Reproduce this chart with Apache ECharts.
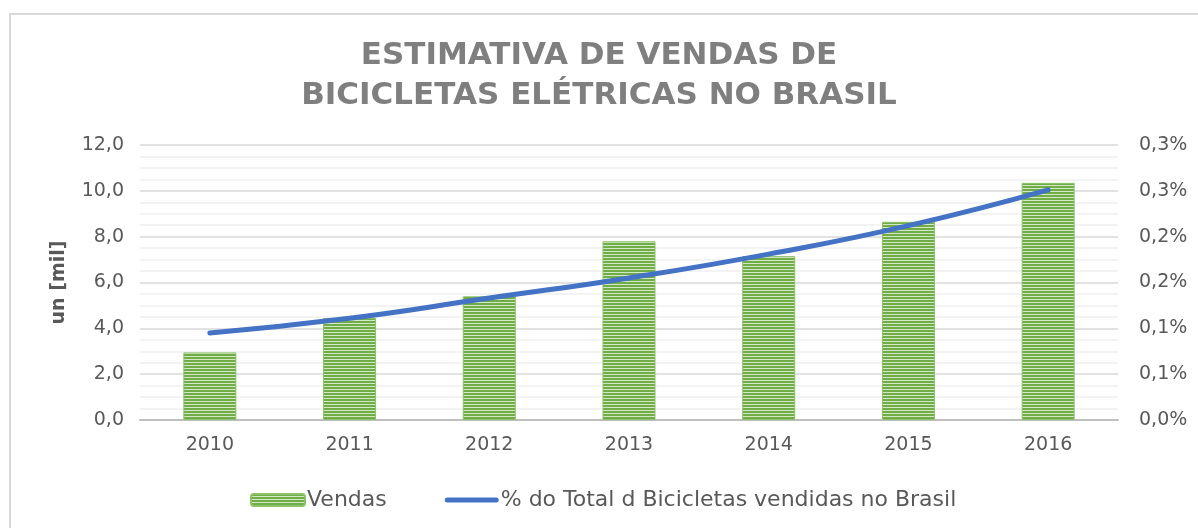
<!DOCTYPE html>
<html>
<head>
<meta charset="utf-8">
<script src="https://cdn.jsdelivr.net/npm/echarts@6/dist/echarts.min.js"></script>
<style>
html,body{margin:0;padding:0;background:#fff;}
#chart{width:1198px;height:528px;}
</style>
</head>
<body>
<div id="chart"></div>
<script>
var categories = ['2010','2011','2012','2013','2014','2015','2016'];
var vendas = [2.95, 4.45, 5.4, 7.8, 7.15, 8.65, 10.35];
var percentTotal = [0.095, 0.111, 0.133, 0.155, 0.181, 0.212, 0.251];
var titleText = 'ESTIMATIVA DE VENDAS DE\nBICICLETAS ELÉTRICAS NO BRASIL';
var seriesNames = ['Vendas', '% do Total d Bicicletas vendidas no Brasil'];
var yAxisName = 'un [mil]';

function makeStripe() {
  var c = document.createElement('canvas');
  c.width = 4; c.height = 3;
  var ctx = c.getContext('2d');
  ctx.fillStyle = '#D3E8C4';
  ctx.fillRect(0, 0, 4, 3);
  ctx.fillStyle = '#70AD47';
  ctx.fillRect(0, 0, 4, 2);
  return c;
}
var stripe = {image: makeStripe(), repeat: 'repeat'};

var font = 'DejaVu Sans';
var chart = echarts.init(document.getElementById('chart'), null, {renderer: 'canvas'});
chart.setOption({
  animation: false,
  backgroundColor: '#fff',
  graphic: [{
    type: 'rect', silent: true, z: -10,
    shape: {x: 10, y: 14, width: 1300, height: 700},
    style: {fill: 'none', stroke: '#D9D9D9', lineWidth: 2}
  }],
  title: {
    text: titleText,
    left: 'center',
    top: 31,
    textStyle: {
      fontFamily: 'DejaVu Sans', fontWeight: 'bold', fontSize: 31,
      color: '#7F7F7F', lineHeight: 40
    }
  },
  grid: {left: 140, right: 80, top: 145, bottom: 108, containLabel: false},
  legend: {
    left: 245, top: 484,
    itemWidth: 54, itemHeight: 12, itemGap: 58,
    textStyle: {fontFamily: font, fontSize: 22, color: '#595959', padding: [0,0,0,-3]},
    data: [
      {name: seriesNames[0], itemStyle: {color: stripe}},
      {name: seriesNames[1], icon: 'path://M2.5,0 H51.5 A2.5,2.5 0 0 1 51.5,5 H2.5 A2.5,2.5 0 0 1 2.5,0 Z',
        itemStyle: {color: '#4472C4'}}
    ]
  },
  xAxis: {
    type: 'category',
    data: categories,
    axisLine: {lineStyle: {color: '#BFBFBF', width: 2}},
    axisTick: {show: false},
    axisLabel: {fontFamily: font, fontSize: 19, color: '#595959', margin: 16}
  },
  yAxis: [{
    type: 'value', min: 0, max: 12, interval: 2,
    name: yAxisName, nameLocation: 'middle', nameGap: 71, nameRotate: 90,
    nameTextStyle: {fontFamily: font, fontWeight: 'bold', fontSize: 19, color: '#595959'},
    axisLine: {show: false}, axisTick: {show: false},
    axisLabel: {fontFamily: font, fontSize: 19, color: '#595959', margin: 16,
      formatter: function (v) { return v.toFixed(1).replace('.', ','); }},
    splitLine: {lineStyle: {color: '#D9D9D9', width: 1.5}},
    minorTick: {show: false, splitNumber: 4},
    minorSplitLine: {show: true, lineStyle: {color: '#F0F0F0', width: 1.5}}
  }, {
    type: 'value', min: 0, max: 0.3, interval: 0.05,
    axisLine: {show: false}, axisTick: {show: false},
    axisLabel: {fontFamily: font, fontSize: 19, color: '#595959', margin: 21,
      formatter: function (v) {
        var r = Math.round(v * 10 + 1e-9) / 10;
        return r.toFixed(1).replace('.', ',') + '%';
      }},
    splitLine: {show: false}
  }],
  series: [{
    name: seriesNames[0],
    type: 'bar',
    data: vendas,
    barWidth: 53,
    itemStyle: {color: stripe, borderColor: '#8CC06A', borderWidth: 1}
  }, {
    name: seriesNames[1],
    type: 'line',
    yAxisIndex: 1,
    data: percentTotal,
    smooth: true,
    symbol: 'none',
    lineStyle: {color: '#4472C4', width: 5, cap: 'round'},
    itemStyle: {color: '#4472C4'},
    z: 5
  }]
});
</script>
</body>
</html>
